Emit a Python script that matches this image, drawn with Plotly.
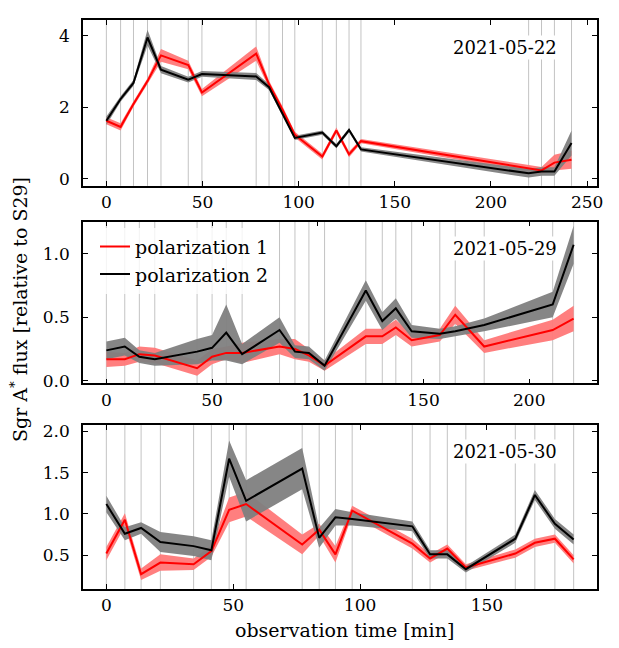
import plotly.graph_objects as go

# ---------------- data ----------------
dates = ["2021-05-22", "2021-05-29", "2021-05-30"]

# panel 1 : 2021-05-22
t1 = [0, 7.4, 14.1, 21.4, 28.4, 42.6, 49.7, 77.9, 84.6, 91.6, 98.0, 112.3, 119.6, 126.2, 132.4, 219.6, 226.3, 233.0, 241.9]
pol1_d1 = [1.62, 1.45, 2.09, 2.73, 3.45, 3.18, 2.41, 3.50, 2.64, 1.93, 1.23, 0.62, 1.35, 0.68, 1.05, 0.30, 0.23, 0.45, 0.53]
pol2_d1 = [1.62, 2.23, 2.68, 3.95, 3.05, 2.77, 2.93, 2.86, 2.56, 1.82, 1.14, 1.29, 0.91, 1.36, 0.82, 0.15, 0.20, 0.20, 1.00]
pol1_err_d1 = [0.10, 0.10, 0.08, 0.08, 0.18, 0.12, 0.10, 0.20, 0.10, 0.10, 0.08, 0.08, 0.08, 0.08, 0.06, 0.10, 0.10, 0.22, 0.25]
pol2_err_d1 = [0.12, 0.08, 0.08, 0.22, 0.10, 0.08, 0.08, 0.10, 0.08, 0.08, 0.06, 0.06, 0.06, 0.06, 0.06, 0.12, 0.12, 0.12, 0.35]

# panel 2 : 2021-05-29
t2 = [0, 8.7, 15.6, 22.9, 42.9, 50.0, 56.7, 64.2, 81.9, 89.2, 95.8, 103.2, 122.7, 130.5, 136.9, 144.4, 157.7, 165.0, 178.7, 211.1, 221.0]
pol1_d2 = [0.17, 0.17, 0.21, 0.20, 0.10, 0.19, 0.22, 0.22, 0.27, 0.25, 0.20, 0.12, 0.35, 0.35, 0.42, 0.32, 0.36, 0.52, 0.27, 0.40, 0.49]
pol2_d2 = [0.24, 0.27, 0.19, 0.17, 0.23, 0.26, 0.38, 0.21, 0.40, 0.23, 0.22, 0.12, 0.71, 0.47, 0.57, 0.39, 0.37, 0.39, 0.44, 0.60, 1.07]
pol1_err_d2 = [0.06, 0.05, 0.06, 0.06, 0.06, 0.06, 0.05, 0.08, 0.06, 0.08, 0.05, 0.04, 0.06, 0.06, 0.06, 0.05, 0.05, 0.07, 0.05, 0.08, 0.10]
pol2_err_d2 = [0.07, 0.07, 0.05, 0.05, 0.10, 0.10, 0.22, 0.08, 0.10, 0.05, 0.05, 0.04, 0.08, 0.07, 0.08, 0.05, 0.04, 0.04, 0.05, 0.10, 0.15]

# panel 3 : 2021-05-30
t3 = [0, 7.3, 13.7, 21.3, 34.4, 41.4, 48.4, 55.1, 77.2, 83.9, 90.3, 96.9, 120.6, 127.6, 134.4, 141.7, 161.2, 168.9, 176.8, 184.2]
pol1_d3 = [0.52, 0.93, 0.27, 0.41, 0.39, 0.55, 1.05, 1.12, 0.63, 0.81, 0.51, 1.04, 0.64, 0.46, 0.58, 0.35, 0.52, 0.65, 0.70, 0.45]
pol2_d3 = [1.12, 0.76, 0.83, 0.66, 0.61, 0.56, 1.67, 1.16, 1.55, 0.71, 0.96, 0.94, 0.85, 0.51, 0.51, 0.33, 0.70, 1.23, 0.88, 0.69]
pol1_err_d3 = [0.08, 0.08, 0.07, 0.10, 0.07, 0.07, 0.15, 0.15, 0.12, 0.07, 0.10, 0.06, 0.06, 0.05, 0.05, 0.04, 0.05, 0.05, 0.05, 0.05]
pol2_err_d3 = [0.10, 0.08, 0.07, 0.12, 0.12, 0.12, 0.22, 0.25, 0.25, 0.12, 0.10, 0.08, 0.06, 0.05, 0.05, 0.04, 0.05, 0.06, 0.06, 0.06]

x_ranges = [[-12.15, 255.15], [-11.05, 232.05], [-9.2, 193.4]]
y_ranges = [[-0.2, 4.44], [-0.02, 1.252], [0.09, 2.077]]
y_ticks = [[0, 2, 4], [0.0, 0.5, 1.0], [0.5, 1.0, 1.5, 2.0]]
y_ticktext = [["0", "2", "4"], ["0.0", "0.5", "1.0"], ["0.5", "1.0", "1.5", "2.0"]]
x_ticks = [[0, 50, 100, 150, 200, 250], [0, 50, 100, 150, 200], [0, 50, 100, 150]]

panels = [
    (t1, pol1_d1, pol2_d1, pol1_err_d1, pol2_err_d1),
    (t2, pol1_d2, pol2_d2, pol1_err_d2, pol2_err_d2),
    (t3, pol1_d3, pol2_d3, pol1_err_d3, pol2_err_d3),
]

# ---------------- figure ----------------
W, H = 619, 648
ML, MR, MT, MB = 75, 30, 8, 67
PH = H - MT - MB
panel_px = [(8, 175), (211, 374), (416, 581)]  # top, bottom in pixels


def py(p):
    return (H - MB - p) / PH


def px(p):
    return (p - ML) / (W - ML - MR)


FONT = "DejaVu Serif"
RED = "#ff0000"
RED_BAND = "rgba(255,120,120,0.95)"
GREY_BAND = "rgba(128,128,128,0.95)"

fig = go.Figure()
shapes = []
annotations = []

for i, (t, p1, p2, e1, e2) in enumerate(panels):
    k = "" if i == 0 else str(i + 1)
    xa, ya = "x" + k, "y" + k
    # scan lines
    for tv in t:
        shapes.append(dict(type="line", xref=xa, yref=ya + " domain", x0=tv, x1=tv, y0=0, y1=1,
                           line=dict(color="rgba(0,0,0,0.24)", width=1), layer="below"))
    # bands
    lo1 = [v - e for v, e in zip(p1, e1)]
    hi1 = [v + e for v, e in zip(p1, e1)]
    lo2 = [v - e for v, e in zip(p2, e2)]
    hi2 = [v + e for v, e in zip(p2, e2)]
    fig.add_trace(go.Scatter(x=t + t[::-1], y=hi1 + lo1[::-1], fill="toself", fillcolor=RED_BAND,
                             line=dict(width=0), mode="lines", showlegend=False, hoverinfo="skip",
                             xaxis=xa, yaxis=ya))
    fig.add_trace(go.Scatter(x=t + t[::-1], y=hi2 + lo2[::-1], fill="toself", fillcolor=GREY_BAND,
                             line=dict(width=0), mode="lines", showlegend=False, hoverinfo="skip",
                             xaxis=xa, yaxis=ya))
    fig.add_trace(go.Scatter(x=t, y=p1, mode="lines", line=dict(color=RED, width=2),
                             name="polarization 1", showlegend=(i == 1), xaxis=xa, yaxis=ya))
    fig.add_trace(go.Scatter(x=t, y=p2, mode="lines", line=dict(color="black", width=2),
                             name="polarization 2", showlegend=(i == 1), xaxis=xa, yaxis=ya))

    top, bot = panel_px[i]
    axcommon = dict(showline=True, linecolor="black", linewidth=1.5, mirror="ticks",
                    ticks="inside", ticklen=5, tickwidth=1.3, tickcolor="black",
                    showgrid=False, zeroline=False,
                    tickfont=dict(family=FONT, size=17, color="black"))
    fig.layout["xaxis" + k] = dict(axcommon, domain=[0, 1], range=x_ranges[i], anchor=ya,
                                   tickmode="array", tickvals=x_ticks[i])
    fig.layout["yaxis" + k] = dict(axcommon, domain=[py(bot), py(top)], range=y_ranges[i], anchor=xa,
                                   tickmode="array", tickvals=y_ticks[i], ticktext=y_ticktext[i],
                                   ticklabelstandoff=8)
    annotations.append(dict(text=dates[i], xref="paper", yref="paper", x=px(497),
                            y=py(top + (28 if i == 0 else 27)), xanchor="center", yanchor="middle",
                            showarrow=False, bgcolor="white",
                            font=dict(family=FONT, size=18, color="black")))

annotations.append(dict(text="observation time [min]", xref="paper", yref="paper",
                        x=px(336), y=py(622), xanchor="center", yanchor="middle",
                        showarrow=False, font=dict(family=FONT, size=19, color="black")))
annotations.append(dict(text="Sgr A<sup>*</sup> flux [relative to S29]", xref="paper", yref="paper",
                        x=px(11), y=py(300), xanchor="center", yanchor="middle",
                        textangle=-90, showarrow=False, font=dict(family=FONT, size=19, color="black")))

fig.update_layout(
    width=W, height=H,
    margin=dict(l=ML, r=MR, t=MT, b=MB),
    paper_bgcolor="white", plot_bgcolor="white",
    shapes=shapes, annotations=annotations,
    showlegend=True,
    legend=dict(x=px(87), y=py(217), xanchor="left", yanchor="top",
                bgcolor="rgba(255,255,255,0.8)", font=dict(family=FONT, size=19, color="black"),
                itemwidth=30, tracegroupgap=0),
)

fig.write_html("out.html")
